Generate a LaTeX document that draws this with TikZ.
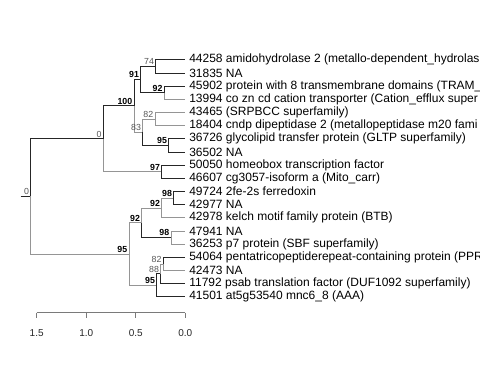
\documentclass[tikz,border=0pt]{standalone}
\usepackage{fontspec}
\setmainfont{Liberation Sans}
\definecolor{dk}{HTML}{262626}
\definecolor{lt}{HTML}{959595}
\definecolor{sup}{HTML}{555555}
\definecolor{axc}{HTML}{7A7A7A}
\begin{document}
\begin{tikzpicture}[x=1bp,y=-1bp,
  leaf/.style={anchor=west,inner xsep=3.8bp,inner ysep=0pt,font=\fontsize{12bp}{13bp}\selectfont,text=black},
  edk/.style={draw=dk,line width=0.85bp},
  elt/.style={draw=lt,line width=0.85bp},
  sb/.style={anchor=south east,inner sep=0pt,xshift=-1.6bp,yshift=1.4bp,font=\fontsize{8.8bp}{9bp}\selectfont\bfseries,text=black},
  sn/.style={anchor=south east,inner sep=0pt,xshift=-1.6bp,yshift=1.4bp,font=\fontsize{8.8bp}{9bp}\selectfont,text=sup},
  axl/.style={anchor=center,inner sep=0pt,font=\fontsize{10bp}{11bp}\selectfont,text=dk}]
\useasboundingbox (0,0) rectangle (480,384);
% leaves
\node[leaf] (l1) at (185.3,59.8) {44258 amidohydrolase 2 (metallo-dependent\_hydrolas};
\node[leaf] (l2) at (185.3,72.97) {31835 NA};
\node[leaf] (l3) at (185.3,86.14) {45902 protein with 8 transmembrane domains (TRAM\_};
\node[leaf] (l4) at (185.3,99.31) {13994 co zn cd cation transporter (Cation\_efflux super};
\node[leaf] (l5) at (185.3,112.48) {43465 (SRPBCC superfamily)};
\node[leaf] (l6) at (185.3,125.65) {18404 cndp dipeptidase 2 (metallopeptidase m20 fami};
\node[leaf] (l7) at (185.3,138.82) {36726 glycolipid transfer protein (GLTP superfamily)};
\node[leaf] (l8) at (185.3,151.99) {36502 NA};
\node[leaf] (l9) at (185.3,165.16) {50050 homeobox transcription factor};
\node[leaf] (l10) at (185.3,178.33) {46607 cg3057-isoform a (Mito\_carr)};
\node[leaf] (l11) at (185.3,191.5) {49724 2fe-2s ferredoxin};
\node[leaf] (l12) at (185.3,204.67) {42977 NA};
\node[leaf] (l13) at (185.3,217.84) {42978 kelch motif family protein (BTB)};
\node[leaf] (l14) at (185.3,231.01) {47941 NA};
\node[leaf] (l15) at (185.3,244.18) {36253 p7 protein (SBF superfamily)};
\node[leaf] (l16) at (185.3,257.35) {54064 pentatricopeptiderepeat-containing protein (PPR};
\node[leaf] (l17) at (185.3,270.52) {42473 NA};
\node[leaf] (l18) at (185.3,283.69) {11792 psab translation factor (DUF1092 superfamily)};
\node[leaf] (l19) at (185.3,296.86) {41501 at5g53540 mnc6\_8 (AAA)};
% internal nodes
\coordinate (n74) at (155.7,66.39);
\coordinate (n92a) at (164.3,92.73);
\coordinate (n91) at (140.7,79.56);
\coordinate (n82a) at (155,119.07);
\coordinate (n95a) at (168.7,145.41);
\coordinate (n83) at (142.7,132.24);
\coordinate (n100) at (134,105.9);
\coordinate (n97) at (161.7,171.75);
\coordinate (nA) at (103.3,138.83);
\coordinate (n98a) at (173.7,198.09);
\coordinate (n92i) at (161.7,207.96);
\coordinate (n98b) at (171,237.6);
\coordinate (n92o) at (141.7,222.78);
\coordinate (n82b) at (163.3,263.94);
\coordinate (n88) at (160.7,273.81);
\coordinate (n95l) at (156.7,285.34);
\coordinate (nB) at (129,254.06);
\coordinate (root) at (30.7,196.45);
\coordinate (stub) at (20.7,196.45);
% edges
\draw[edk] (stub) -- (root);
\draw[edk] (root) |- (nA);
\draw[elt] (root) |- (nB);
\draw[edk] (nA) |- (n100);
\draw[elt] (nA) |- (n97);
\draw[edk] (n100) |- (n91);
\draw[elt] (n100) |- (n83);
\draw[edk] (n91) |- (n74);
\draw[edk] (n91) |- (n92a);
\draw[edk] (n74) |- (l1.west);
\draw[edk] (n74) |- (l2.west);
\draw[edk] (n92a) |- (l3.west);
\draw[elt] (n92a) |- (l4.west);
\draw[elt] (n83) |- (n82a);
\draw[edk] (n83) |- (n95a);
\draw[elt] (n82a) |- (l5.west);
\draw[elt] (n82a) |- (l6.west);
\draw[edk] (n95a) |- (l7.west);
\draw[edk] (n95a) |- (l8.west);
\draw[edk] (n97) |- (l9.west);
\draw[edk] (n97) |- (l10.west);
\draw[elt] (nB) |- (n92o);
\draw[elt] (nB) |- (n95l);
\draw[elt] (n92o) |- (n92i);
\draw[edk] (n92o) |- (n98b);
\draw[elt] (n92i) |- (n98a);
\draw[elt] (n92i) |- (l13.west);
\draw[edk] (n98a) |- (l11.west);
\draw[edk] (n98a) |- (l12.west);
\draw[elt] (n98b) |- (l14.west);
\draw[elt] (n98b) |- (l15.west);
\draw[edk] (n95l) |- (n88);
\draw[edk] (n95l) |- (l19.west);
\draw[elt] (n88) |- (n82b);
\draw[edk] (n88) |- (l18.west);
\draw[edk] (n82b) |- (l16.west);
\draw[elt] (n82b) |- (l17.west);
% support values
\node[sn] (s0r) at (root) {0};
\node[sn] (s0a) at (nA) {0};
\node[sb] (s100) at (n100) {100};
\node[sb] (s91) at (n91) {91};
\node[sn] (s74) at (n74) {74};
\node[sb] (s92a) at (n92a) {92};
\node[sn] (s83) at (n83) {83};
\node[sn] (s82a) at (n82a) {82};
\node[sb] (s95a) at (n95a) {95};
\node[sb] (s97) at (n97) {97};
\node[sb] (s95b) at (nB) {95};
\node[sb] (s92o) at (n92o) {92};
\node[sb] (s92i) at (n92i) {92};
\node[sb] (s98a) at (n98a) {98};
\node[sb] (s98b) at (n98b) {98};
\node[sb] (s95l) at (n95l) {95};
\node[sn] (s88) at (n88) {88};
\node[sn] (s82b) at (n82b) {82};
% scale axis
\coordinate (a15) at (36.7,312.7);
\coordinate (a10) at (86.2,312.7);
\coordinate (a05) at (135.8,312.7);
\coordinate (a00) at (185.3,312.7);
\draw[draw=axc,line width=0.85bp] (a15) -- (a00);
\foreach \p in {a15,a10,a05,a00} \draw[draw=axc,line width=0.85bp] (\p) -- ++(0,5.6);
\node[axl] (t15) at (36.7,333) {1.5};
\node[axl] (t10) at (86.2,333) {1.0};
\node[axl] (t05) at (135.8,333) {0.5};
\node[axl] (t00) at (185.3,333) {0.0};
\end{tikzpicture}
\end{document}
